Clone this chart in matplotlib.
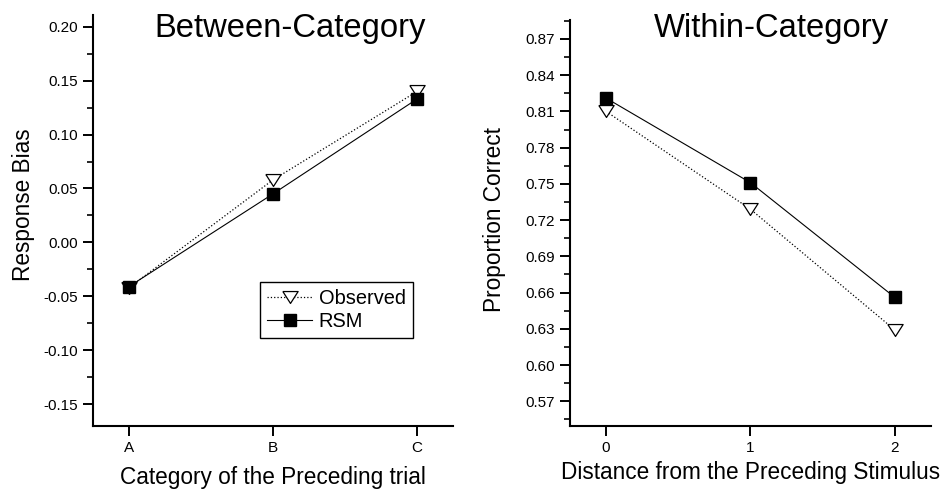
import matplotlib
matplotlib.use('Agg')
import matplotlib.pyplot as plt
from matplotlib.ticker import AutoMinorLocator, FormatStrFormatter, MultipleLocator

plt.rcParams['font.family'] = ['Liberation Sans', 'DejaVu Sans']

# Left panel: response bias by category of the preceding trial
categories = ['A', 'B', 'C']
between_observed = [-0.042, 0.058, 0.140]
between_rsm = [-0.041, 0.045, 0.133]

# Right panel: proportion correct by distance from preceding stimulus
distances = [0, 1, 2]
within_observed = [0.810, 0.729, 0.629]
within_rsm = [0.821, 0.751, 0.656]

# wide open down-triangle like the original
tri = [(-1, 0.78), (1, 0.78), (0, -0.78), (-1, 0.78)]

obs_style = dict(color='black', linestyle=':', linewidth=0.9, marker=tri,
                 markersize=11, markerfacecolor='white', markeredgecolor='black',
                 markeredgewidth=0.9, label='Observed')
rsm_style = dict(color='black', linestyle='-', linewidth=0.8, marker='s',
                 markersize=8, markerfacecolor='black', markeredgecolor='black',
                 label='RSM')

fig = plt.figure(figsize=(9.44, 4.93), dpi=100)
ax1 = fig.add_axes([0.0985, 0.1365, 0.3814, 0.833])
ax2 = fig.add_axes([0.6038, 0.1365, 0.3824, 0.823])


def style_axes(ax):
    for side in ['top', 'right']:
        ax.spines[side].set_visible(False)
    for side in ['left', 'bottom']:
        ax.spines[side].set_linewidth(1.5)
    ax.tick_params(which='major', direction='out', length=7, width=1.4,
                   labelsize=11, pad=4)
    ax.tick_params(which='minor', direction='out', length=4, width=1.2)
    ax.tick_params(axis='x', which='minor', bottom=False)


# Between-category
xpos = list(range(len(categories)))
ax1.plot(xpos, between_observed, **obs_style)
ax1.plot(xpos, between_rsm, **rsm_style)
ax1.set_xlim(-0.25, 2.25)
ax1.set_ylim(-0.1701, 0.2109)
ax1.set_xticks(xpos)
ax1.set_xticklabels(categories)
ax1.yaxis.set_major_locator(MultipleLocator(0.05))
ax1.yaxis.set_minor_locator(AutoMinorLocator(2))
ax1.yaxis.set_major_formatter(FormatStrFormatter('%.2f'))
style_axes(ax1)
ax1.set_xlabel('Category of the Preceding trial', fontsize=16.3)
ax1.set_ylabel('Response Bias', fontsize=16.3)
ax1.xaxis.set_label_coords(0.5, -0.098)
ax1.yaxis.set_label_coords(-0.162, 0.537)
ax1.legend(loc='upper left', bbox_to_anchor=(0.464, 0.3506), borderaxespad=0,
           fontsize=14.4, handlelength=2.25, handletextpad=0.33, borderpad=0.36,
           labelspacing=0.2, fancybox=False, framealpha=1, edgecolor='black')
ax1.get_legend().get_frame().set_linewidth(1.0)

# Within-category
ax2.plot(distances, within_observed, **obs_style)
ax2.plot(distances, within_rsm, **rsm_style)
ax2.set_xlim(-0.25, 2.25)
ax2.set_ylim(0.5498, 0.8857)
ax2.set_xticks(distances)
ax2.yaxis.set_major_locator(MultipleLocator(0.03))
ax2.yaxis.set_minor_locator(AutoMinorLocator(2))
ax2.yaxis.set_major_formatter(FormatStrFormatter('%.2f'))
style_axes(ax2)
ax2.set_xlabel('Distance from the Preceding Stimulus', fontsize=16.3)
ax2.set_ylabel('Proportion Correct', fontsize=16.3)
ax2.xaxis.set_label_coords(0.5, -0.088)
ax2.yaxis.set_label_coords(-0.178, 0.507)

fig.text(0.3077, 0.9256, 'Between-Category', fontsize=23.6, ha='center', va='baseline')
fig.text(0.8173, 0.9256, 'Within-Category', fontsize=23.6, ha='center', va='baseline')

fig.savefig('out.png', dpi=100)
